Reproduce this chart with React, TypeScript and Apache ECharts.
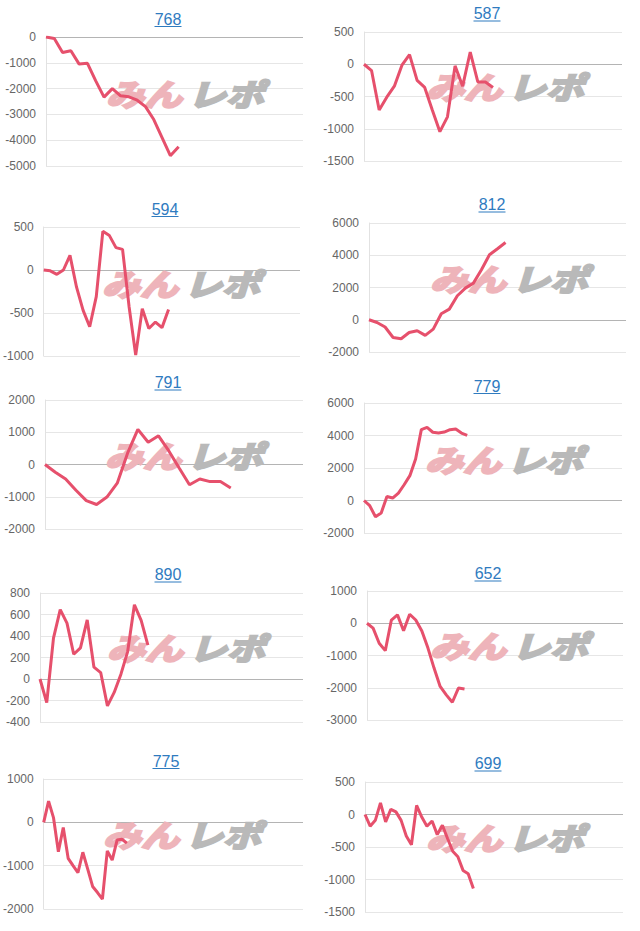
import { useEffect, useRef } from 'react';
import * as echarts from 'echarts';

// ---- data ----
const titles = ['768', '587', '594', '812', '791', '779', '890', '652', '775', '699'];
const categoryCounts = [32, 35, 40, 33, 26, 46, 40, 43, 54, 51];

const s768 = [0, -60, -600, -530, -1050, -1020, -1700, -2330, -2000, -2280, -2320, -2450, -2700, -3200, -3900, -4600, -4250];
const s587 = [0, -100, -710, -510, -340, -15, 150, -250, -360, -710, -1045, -815, -25, -340, 190, -275, -275, -360];
const s594 = [0, -10, -50, 0, 170, -200, -470, -660, -310, 450, 400, 260, 240, -430, -990, -450, -680, -605, -670, -460];
const s812 = [0, -170, -450, -1100, -1180, -790, -680, -970, -580, 370, 660, 1490, 1960, 2270, 3100, 4030, 4400, 4790];
const s791 = [0, -240, -450, -800, -1120, -1240, -1010, -580, 350, 1090, 690, 890, 420, -110, -630, -450, -530, -530, -730];
const s779 = [0, -320, -1000, -770, 250, 150, 460, 970, 1530, 2550, 4360, 4500, 4200, 4150, 4210, 4360, 4400, 4150, 4010];
const s890 = [0, -220, 380, 645, 520, 230, 290, 550, 110, 60, -250, -125, 45, 255, 690, 545, 315];
const s652 = [0, -150, -620, -850, 100, 260, -230, 280, 100, -240, -770, -1390, -1960, -2220, -2450, -2010, -2040];
const s775 = [0, 490, 110, -680, -120, -830, -1000, -1160, -690, -1080, -1480, -1620, -1770, -660, -870, -410, -390, -480];
const s699 = [0, -180, -90, 180, -115, 80, 40, -90, -330, -465, 140, -40, -180, -100, -310, -165, -370, -565, -650, -860, -910, -1140];

const seriesData = [s768, s587, s594, s812, s791, s779, s890, s652, s775, s699];

const yMin = [-5000, -1500, -1000, -2000, -2000, -2000, -400, -3000, -2000, -1500];
const yMax = [0, 500, 500, 6000, 2000, 6000, 800, 1000, 1000, 500];
const yStep = [1000, 500, 500, 2000, 1000, 2000, 200, 1000, 1000, 500];

// ---- layout (pixels) ----
const panels = [
  { l: 46, r: 303, t: 37, b: 166, tx: 168, ty: 19, wx: 106, wy: 80 },
  { l: 364, r: 622, t: 32, b: 161, tx: 487, ty: 13.5, wx: 426, wy: 73 },
  { l: 43, r: 300, t: 227, b: 356, tx: 165, ty: 209, wx: 102, wy: 270 },
  { l: 369, r: 626, t: 223, b: 352, tx: 492, ty: 204.5, wx: 430, wy: 265 },
  { l: 45, r: 303, t: 400, b: 529, tx: 168, ty: 382.5, wx: 105, wy: 442 },
  { l: 364, r: 622, t: 403, b: 533, tx: 487, ty: 386, wx: 425, wy: 446 },
  { l: 40, r: 303, t: 593, b: 722, tx: 168, ty: 574.5, wx: 107, wy: 634 },
  { l: 367, r: 623, t: 591, b: 720, tx: 488, ty: 573.5, wx: 430, wy: 632 },
  { l: 43, r: 303, t: 779, b: 909, tx: 166, ty: 761, wx: 103, wy: 821 },
  { l: 365, r: 623, t: 782, b: 912, tx: 488, ty: 763.5, wx: 426, wy: 824 },
];

const LINE_COLOR = '#e6506c';
const GRID_COLOR = '#e6e6e6';
const ZERO_COLOR = '#b4b4b4';
const TITLE_COLOR = '#2f7bbf';
const PINK = '#eeb4ba';
const GRAY = '#b9b9b9';

export default function App() {
  const ref = useRef<HTMLDivElement>(null);

  useEffect(() => {
    document.body.style.margin = '0';
    if (!ref.current) return;
    const chart = echarts.init(ref.current, undefined, { renderer: 'svg' });

    const grid: any[] = [];
    const xAxis: any[] = [];
    const yAxis: any[] = [];
    const series: any[] = [];
    const graphic: any[] = [];

    panels.forEach((p, i) => {
      grid.push({ left: p.l, top: p.t, width: p.r - p.l, height: p.b - p.t, containLabel: false });
      const cats = Array.from({ length: categoryCounts[i] }, (_, k) => String(k + 1));
      xAxis.push({
        type: 'category', gridIndex: i, data: cats, boundaryGap: false,
        axisLine: { show: false }, axisTick: { show: false }, axisLabel: { show: false }, splitLine: { show: false },
      });
      const nTicks = Math.round((yMax[i] - yMin[i]) / yStep[i]) + 1;
      const colors: string[] = [];
      for (let k = 0; k < nTicks; k++) {
        colors.push(yMin[i] + k * yStep[i] === 0 ? ZERO_COLOR : GRID_COLOR);
      }
      yAxis.push({
        type: 'value', gridIndex: i, min: yMin[i], max: yMax[i], interval: yStep[i],
        axisLine: { show: true, lineStyle: { color: '#e2e2e2', width: 1 } },
        axisTick: { show: false },
        axisLabel: {
          color: '#666', fontSize: 12, fontFamily: 'Arial, "Liberation Sans", sans-serif', margin: 10,
          formatter: (v: number) => String(v),
        },
        splitLine: { show: true, lineStyle: { color: colors, width: 1 } },
      });
      series.push({
        type: 'line', xAxisIndex: i, yAxisIndex: i, data: seriesData[i],
        showSymbol: false, symbol: 'none', smooth: false, z: 5,
        lineStyle: { width: 3, color: LINE_COLOR }, itemStyle: { color: LINE_COLOR },
      });
      // title (link style)
      graphic.push({
        type: 'text', x: p.tx, y: p.ty, z: 10,
        style: {
          text: titles[i], fill: TITLE_COLOR, fontSize: 16,
          fontFamily: 'Arial, "Liberation Sans", sans-serif',
          textAlign: 'center', textVerticalAlign: 'middle',
        },
      });
      graphic.push({
        type: 'line', z: 10,
        shape: { x1: p.tx - 13.5, y1: p.ty + 7.5, x2: p.tx + 13.5, y2: p.ty + 7.5 },
        style: { stroke: TITLE_COLOR, lineWidth: 1 },
      });
      // watermark
      graphic.push({
        type: 'group', x: p.wx, y: p.wy, z: 1,
        children: [
          {
            type: 'text', x: 0, y: -2, scaleY: 0.8, z: 1,
            style: {
              text: 'みん', fill: PINK, stroke: PINK, lineWidth: 3, fontSize: 38, fontWeight: 'bold', fontStyle: 'italic',
              fontFamily: '"Noto Sans CJK JP", sans-serif', textVerticalAlign: 'top',
            },
          },
          {
            type: 'text', x: 82, y: -2, scaleY: 0.8, z: 1,
            style: {
              text: 'レポ', fill: GRAY, stroke: GRAY, lineWidth: 3, fontSize: 38, fontWeight: 'bold', fontStyle: 'italic',
              fontFamily: '"Noto Sans CJK JP", sans-serif', textVerticalAlign: 'top',
            },
          },
        ],
      });
    });

    chart.setOption({
      animation: false,
      backgroundColor: '#ffffff',
      grid, xAxis, yAxis, series, graphic,
    });

    return () => chart.dispose();
  }, []);

  return <div ref={ref} style={{ width: 640, height: 931 }} />;
}
